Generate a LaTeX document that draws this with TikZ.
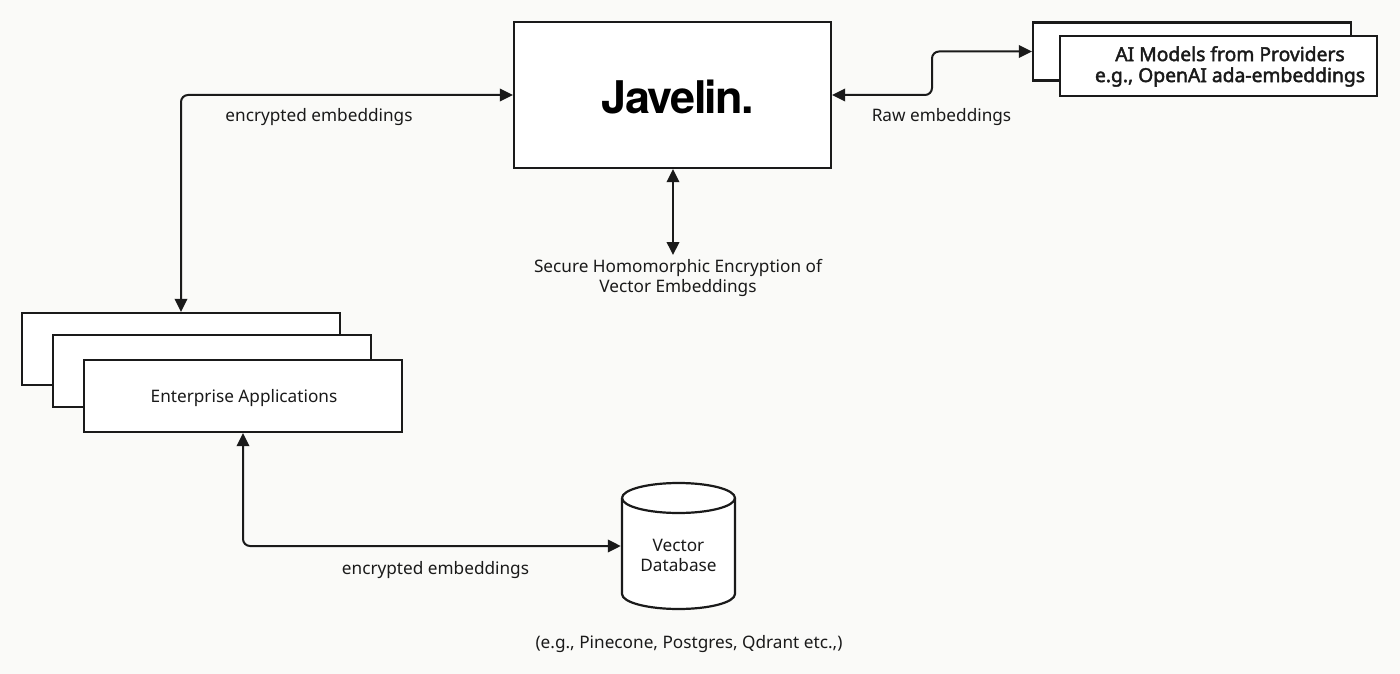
\documentclass[tikz,border=0pt]{standalone}
\usepackage{fontspec}
\setmainfont{Noto Sans}
\newfontfamily\logofont{TeX Gyre Heros}
\newfontfamily\semifont[FakeBold=2.2]{Noto Sans}
\usetikzlibrary{arrows.meta}
\definecolor{bgc}{HTML}{FAFAF8}
\definecolor{ink}{HTML}{1A1A1A}
\tikzset{
  x=1pt,y=-1pt,
  box/.style={draw=ink,fill=white,line width=2.2pt,inner sep=0pt,minimum width=#1},
  box/.default=318pt,
  lbl/.style={text=ink,inner sep=0pt,align=center,font=\fontsize{17.2}{20}\selectfont},
  conn/.style={draw=ink,line width=2pt,rounded corners=7pt,{Triangle[length=13pt,width=12.5pt]}-{Triangle[length=13pt,width=12.5pt]}},
}
\begin{document}
\begin{tikzpicture}
\useasboundingbox[fill=bgc] (0,0) rectangle (1400,674);
% Javelin
\node[box=317pt,minimum height=146pt] (jav) at (672.5,95) {};
\node[text=black,inner sep=0pt,font=\logofont\bfseries\fontsize{45}{45}\selectfont] (logo) at (678,97) {\addfontfeatures{LetterSpace=-3.5}Javelin.};
% Models
\node[box=318pt,minimum height=58pt] (modelback) at (1192,51.5) {};
\node[box=317pt,minimum height=60pt] (modelfront) at (1218.5,66) {};
\node[lbl,font=\semifont\fontsize{19.3}{21}\selectfont] (modeltext) at (1230,66.5) {AI Models from Providers\\e.g., OpenAI ada-embeddings};
% Apps
\node[box,minimum height=72pt] (appa) at (181,349) {};
\node[box,minimum height=72pt] (appb) at (212,371) {};
\node[box,minimum height=72pt,text=ink] (appc) at (243,396) {};
\node[lbl] (apptext) at (244,398.5) {Enterprise Applications};
% Database
\fill[white] (622,498) arc[start angle=180,end angle=0,x radius=56.5pt,y radius=15pt] -- (735,594) arc[start angle=0,end angle=-180,x radius=56.5pt,y radius=15pt] -- cycle;
\draw[ink,line width=2.2pt] (622,498) arc[start angle=180,end angle=540,x radius=56.5pt,y radius=15pt];
\draw[ink,line width=2.2pt] (622,498) -- (622,594) arc[start angle=180,end angle=360,x radius=56.5pt,y radius=15pt] -- (735,498);
\node[minimum width=115pt,minimum height=126pt,inner sep=0pt] (db) at (678.5,546) {};
\node[lbl] (dbtext) at (678.5,555) {Vector\\Database};
% Labels
\node[lbl] (l1) at (319,117) {encrypted embeddings};
\node[lbl] (l2) at (941.5,117) {Raw embeddings};
\node[lbl] (l3) at (678,278) {Secure Homomorphic Encryption of\\Vector Embeddings};
\node[lbl] (l4) at (435.5,570) {encrypted embeddings};
\node[lbl] (l5) at (689,644) {(e.g., Pinecone, Postgres, Qdrant etc.,)};
% Connectors
\coordinate (bend) at (932,74);
\coordinate (secend) at (673,255);
\draw[conn] (jav.west) -| (appa.north);
\draw[conn] (jav.east) -| (bend) |- (modelback.west);
\draw[conn] (jav.south -| secend) -- (secend);
\draw[conn] (appc.south) |- (db.west);
\end{tikzpicture}
\end{document}
